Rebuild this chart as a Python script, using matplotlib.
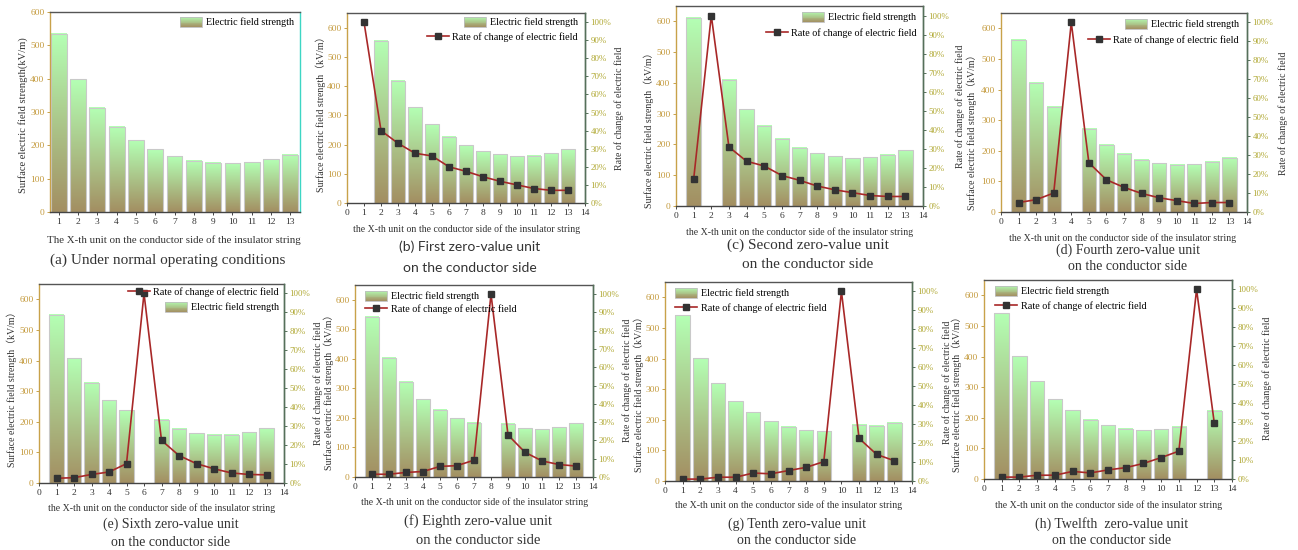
import numpy as np
import matplotlib
matplotlib.use("Agg")
import matplotlib.pyplot as plt
from matplotlib.patches import Patch, Rectangle
from matplotlib.lines import Line2D
from matplotlib.legend_handler import HandlerBase
from matplotlib.colors import to_rgb

plt.rcParams["font.family"] = ["Liberation Serif", "Noto Sans CJK SC"]

# ---------- data ----------
units = np.arange(1, 14)

field_a = [535, 398, 313, 256, 216, 188, 167, 154, 148, 146, 149, 158, 172]

field_b = [0, 555, 418, 327, 270, 226, 197, 177, 166, 160, 161, 170, 184]
rate_b = [100, 40, 33, 27.5, 26, 20, 17.5, 14.5, 12, 10, 8, 7, 7]

field_c = [612, 0, 410, 315, 261, 218, 190, 172, 161, 156, 158, 166, 181]
rate_c = [14, 100, 31, 23.5, 21, 16, 13.5, 10.5, 8.5, 7, 5.5, 5, 5]

field_d = [563, 422, 344, 0, 272, 220, 190, 170, 159, 154, 156, 164, 178]
rate_d = [5, 6.5, 10, 100, 26, 17, 13, 9.8, 7.5, 6, 4.5, 5, 5]

field_e = [549, 408, 327, 271, 238, 0, 206, 178, 163, 157, 157, 165, 179]
rate_e = [2.5, 2.8, 4.5, 5.8, 10.2, 100, 22.5, 14.5, 10.2, 7.5, 5.3, 4.5, 4.3]

field_f = [543, 403, 322, 263, 228, 199, 183, 0, 180, 165, 162, 169, 182]
rate_f = [1.5, 1.5, 2.5, 3, 5.8, 6.2, 9.2, 100, 23, 13.5, 8.8, 6.8, 6]

field_g = [541, 401, 320, 260, 224, 195, 177, 165, 163, 0, 183, 181, 190]
rate_g = [1, 1, 2, 2, 4.2, 3.8, 5.5, 7.2, 10.2, 100, 22.5, 14, 10.7]

field_h = [541, 401, 320, 260, 224, 194, 175, 164, 160, 162, 171, 0, 223]
rate_h = [1, 1, 2, 2, 4, 3.2, 4.8, 6, 8.2, 11.3, 14.7, 100, 29.5]

LBL_FIELD = "Electric field strength"
LBL_RATE = "Rate of change of electric field"
XLAB = "the X-th unit on the conductor side of the insulator string"
YLAB_L = "Surface electric field strength（kV/m）"
YLAB_R = "Rate of change of electric field"

# ---------- style ----------
W, H = 1298, 550
TOP = np.array(to_rgb("#b4ffb4"))
BOT = np.array(to_rgb("#a38f62"))
LINE_C = "#a82828"
MARK_C = "#333333"
LTICK = "#c49a3c"
RTICK = "#b0a832"
LSPINE = "#c8a24a"
RSPINE = "#55705a"
BW = 0.82
FS_TICK = 6.8
FS_LAB = 7.1
FS_LEG = 7.3

fig = plt.figure(figsize=(W / 100, H / 100), dpi=100)


def fx(px):
    return px / W


def fy(py):
    return 1 - py / H


class GradHandler(HandlerBase):
    def create_artists(self, legend, orig_handle, xdescent, ydescent, width, height, fontsize, trans):
        n = 12
        arts = []
        for i in range(n):
            c = BOT + (i + 0.5) / n * (TOP - BOT)
            arts.append(Rectangle((-xdescent, -ydescent + i * height / n), width, height / n * 1.05,
                                  facecolor=c, edgecolor="none", transform=trans))
        arts.append(Rectangle((-xdescent, -ydescent), width, height, fill=False,
                              edgecolor="#bdbdbd", lw=0.6, transform=trans))
        return arts


grad_handle = Patch(label=LBL_FIELD)
line_handle = Line2D([], [], color=LINE_C, lw=1.2, marker="s", ms=4,
                     mfc=MARK_C, mec=MARK_C)


def draw_bars(ax, vals):
    t = np.linspace(0, 1, 64)[:, None, None]
    img = BOT + t * (TOP - BOT)
    xs = [x for x, v in zip(units, vals) if v > 0]
    vs = [v for v in vals if v > 0]
    for x, v in zip(xs, vs):
        ax.imshow(img, extent=(x - BW / 2, x + BW / 2, 0, v), origin="lower",
                  aspect="auto", zorder=1, interpolation="bilinear")
    ax.bar(xs, vs, width=BW, facecolor="none", edgecolor="#c9c9c9", lw=0.8, zorder=2)


def leg_row(handle, label, x_px, y_px, loc):
    fig.legend([handle], [label], loc=loc, bbox_to_anchor=(fx(x_px), fy(y_px)),
               frameon=False, fontsize=FS_LEG, handlelength=2.2, handleheight=1.1,
               borderpad=0, borderaxespad=0, handletextpad=0.35,
               handler_map={Patch: GradHandler()})


def panel(box, field, rate, xlim, xticks, ytop, rspine):
    l, r, t, b = box
    ax = fig.add_axes([fx(l), fy(b), fx(r - l), (b - t) / H])
    draw_bars(ax, field)
    ax.set_xlim(*xlim)
    ax.set_ylim(0, ytop)
    ax.set_xticks(xticks)
    ax.set_yticks(range(0, 700, 100))
    ax.tick_params(axis="y", colors=LSPINE, labelcolor=LTICK, labelsize=FS_TICK,
                   length=2.5, width=0.7, direction="out", pad=1.5)
    ax.tick_params(axis="x", colors="#444444", labelcolor="#333333", labelsize=FS_TICK,
                   length=2.5, width=0.7, direction="out", pad=2)
    ax.spines["left"].set_color(LSPINE)
    ax.spines["top"].set_color("#555555")
    ax.spines["bottom"].set_color("#444444")
    ax.spines["right"].set_color(rspine)
    for s in ax.spines.values():
        s.set_linewidth(1.0)
    if rate is not None:
        ax2 = ax.twinx()
        ax2.plot(units, rate, color=LINE_C, lw=1.2, marker="s", ms=4,
                 mfc=MARK_C, mec=MARK_C, zorder=3)
        ax2.set_ylim(0, 105)
        ax2.set_yticks(range(0, 101, 10))
        ax2.set_yticklabels([f"{v}%" for v in range(0, 101, 10)])
        ax2.tick_params(axis="y", colors=rspine, labelcolor=RTICK, labelsize=FS_TICK - 0.4,
                        length=2.5, width=0.7, direction="out", pad=1.5)
        ax2.spines["right"].set_color(rspine)
        ax2.spines["right"].set_linewidth(1.0)
        ax2.spines["left"].set_visible(False)
        ax2.spines["top"].set_visible(False)
        ax2.spines["bottom"].set_visible(False)
    return ax


def label(txt, x_px, y_px, rot=0, size=FS_LAB, **kw):
    fig.text(fx(x_px), fy(y_px), txt, rotation=rot, fontsize=size,
             ha="center", va="center", color="#333333", **kw)


full_x = (0, 14)
full_ticks = range(0, 15)

# ---------- (a) ----------
panel((50, 300, 12, 212), field_a, None, (0.55, 13.5), units, 600, "#3dd6c4")
leg_row(grad_handle, LBL_FIELD, 294, 22, "center right")
label("Surface electric field strength(kV/m)", 23, 115, rot=90, size=7.6)
label("The X-th unit on the conductor side of the insulator string", 174, 240, size=7.8)
label("(a) Under normal operating conditions", 168, 260, size=11)

# ---------- (b) ----------
panel((347, 585, 13, 203), field_b, rate_b, full_x, full_ticks, 650, RSPINE)
leg_row(grad_handle, LBL_FIELD, 578, 22, "center right")
leg_row(line_handle, LBL_RATE, 578, 37, "center right")
label(YLAB_L, 321, 112, rot=90)
label(YLAB_R, 619, 108, rot=90)
label(XLAB, 467, 229)
label("(b) First zero-value unit", 470, 247, size=10, family=["Lato"])
label("on the conductor side", 470, 268, size=10, family=["Lato"])

# ---------- (c) ----------
panel((676, 923, 6, 206), field_c, rate_c, full_x, full_ticks, 650, RSPINE)
leg_row(grad_handle, LBL_FIELD, 916, 17, "center right")
leg_row(line_handle, LBL_RATE, 917, 33, "center right")
label(YLAB_L, 649, 128, rot=90)
label(YLAB_R, 960, 106, rot=90)
label(XLAB, 800, 232)
label("(c) Second zero-value unit", 808, 245, size=11)
label("on the conductor side", 808, 265, size=11)

# ---------- (d) ----------
panel((1001, 1247, 13, 212), field_d, rate_d, full_x, full_ticks, 650, RSPINE)
leg_row(grad_handle, LBL_FIELD, 1239, 24, "center right")
leg_row(line_handle, LBL_RATE, 1239, 40, "center right")
label(YLAB_L, 972, 130, rot=90)
label(YLAB_R, 1283, 113, rot=90)
label(XLAB, 1123, 238)
label("(d) Fourth zero-value unit", 1128, 250, size=10)
label("on the conductor side", 1128, 266, size=10)

# ---------- (e) ----------
panel((39, 284, 284, 483), field_e, rate_e, full_x, full_ticks, 650, RSPINE)
leg_row(line_handle, LBL_RATE, 279, 292, "center right")
leg_row(grad_handle, LBL_FIELD, 279, 307, "center right")
label(YLAB_L, 12, 387, rot=90)
label(YLAB_R, 318, 383, rot=90)
label(XLAB, 162, 508)
label("(e) Sixth zero-value unit", 171, 524, size=10)
label("on the conductor side", 171, 542, size=10)

# ---------- (f) ----------
panel((355, 593, 285, 477), field_f, rate_f, full_x, full_ticks, 650, RSPINE)
leg_row(grad_handle, LBL_FIELD, 365, 296, "center left")
leg_row(line_handle, LBL_RATE, 365, 309, "center left")
label(YLAB_L, 329, 390, rot=90)
label(YLAB_R, 627, 380, rot=90)
label(XLAB, 475, 502)
label("(f) Eighth zero-value unit", 478, 521, size=10.5)
label("on the conductor side", 478, 540, size=10.5)

# ---------- (g) ----------
panel((665, 912, 282, 481), field_g, rate_g, full_x, full_ticks, 650, RSPINE)
leg_row(grad_handle, LBL_FIELD, 675, 293, "center left")
leg_row(line_handle, LBL_RATE, 675, 308, "center left")
label(YLAB_L, 639, 392, rot=90)
label(YLAB_R, 947, 382, rot=90)
label(XLAB, 789, 505)
label("(g) Tenth zero-value unit", 797, 524, size=10)
label("on the conductor side", 797, 540, size=10)

# ---------- (h) ----------
panel((984, 1232, 280, 479), field_h, rate_h, full_x, full_ticks, 650, RSPINE)
leg_row(grad_handle, LBL_FIELD, 995, 291, "center left")
leg_row(line_handle, LBL_RATE, 995, 306, "center left")
label(YLAB_L, 957, 392, rot=90)
label(YLAB_R, 1267, 378, rot=90)
label(XLAB, 1109, 505)
label("(h) Twelfth  zero-value unit", 1112, 524, size=10)
label("on the conductor side", 1112, 540, size=10)

fig.savefig("out.png", dpi=100, facecolor="white")
